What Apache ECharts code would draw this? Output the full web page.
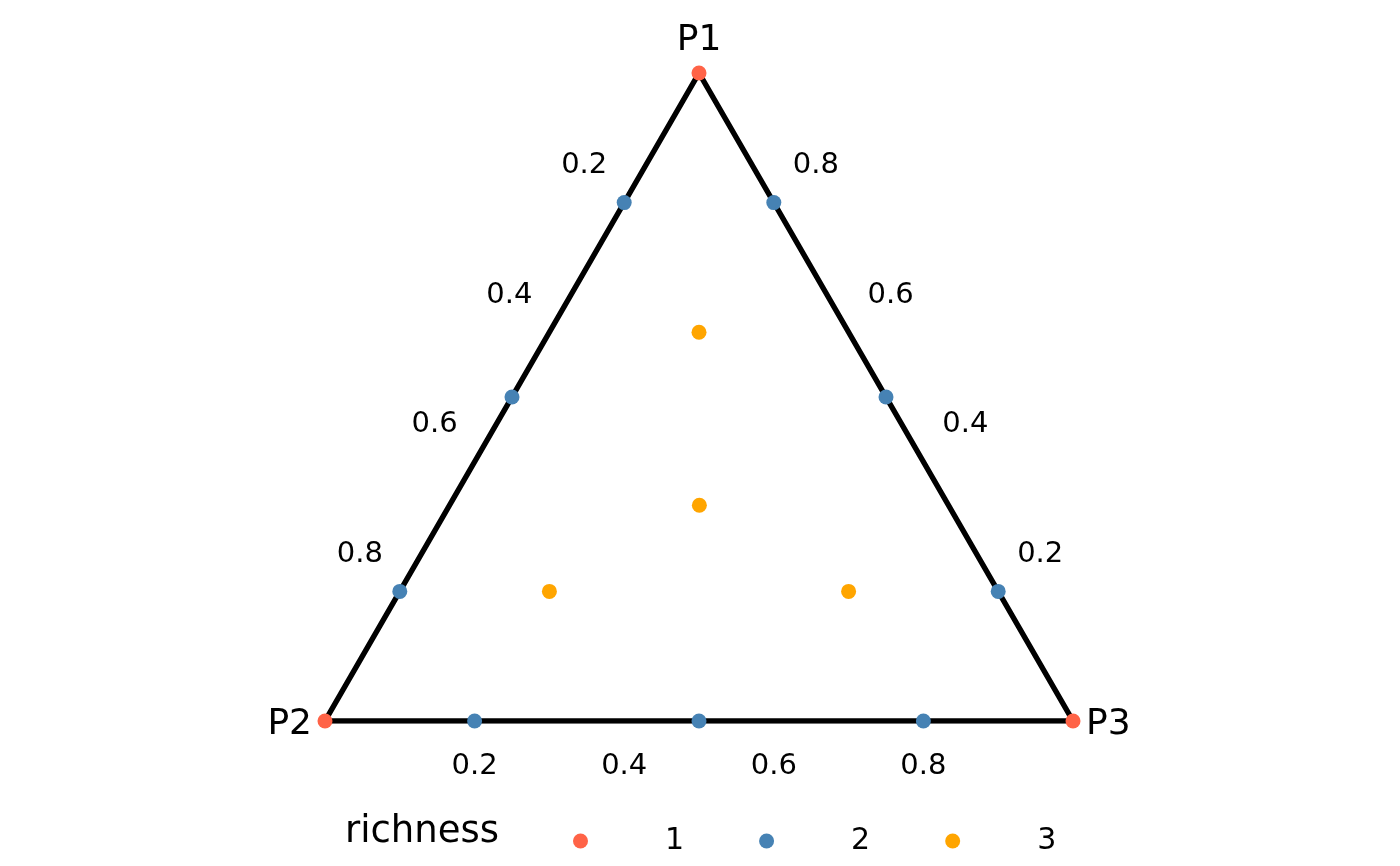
<!DOCTYPE html>
<html>
<head>
<meta charset="utf-8">
<script src="https://cdn.jsdelivr.net/npm/echarts@6/dist/echarts.min.js"></script>
<style>html,body{margin:0;padding:0;background:#fff}#c{width:1400px;height:866px}</style>
</head>
<body>
<div id="c"></div>
<script>
// ---- data (ternary compositions: [P1, P2, P3]) ----
const vertexNames = ['P1', 'P2', 'P3'];
const richness1 = [[1, 0, 0], [0, 1, 0], [0, 0, 1]];
const richness2 = [[0.8, 0.2, 0], [0.5, 0.5, 0], [0.2, 0.8, 0],
                   [0, 0.8, 0.2], [0, 0.5, 0.5], [0, 0.2, 0.8],
                   [0.8, 0, 0.2], [0.5, 0, 0.5], [0.2, 0, 0.8]];
const richness3 = [[0.6, 0.2, 0.2], [0.333, 0.333, 0.334], [0.2, 0.6, 0.2], [0.2, 0.2, 0.6]];
const tickValues = [0.2, 0.4, 0.6, 0.8];
const legendNames = ['1', '2', '3'];
const colors = ['#FF6347', '#4682B4', '#FFA500'];

const H = Math.sqrt(3) / 2;
function tern(c) { // [P1,P2,P3] -> cartesian
  const s = c[0] + c[1] + c[2];
  const p1 = c[0] / s, p3 = c[2] / s;
  return [p3 + p1 * 0.5, p1 * H];
}
const FONT = 'DejaVu Sans';

const triangle = [richness1[0], richness1[1], richness1[2], richness1[0]].map(tern);

// tick positions: left edge = P2 axis, right edge = P1 axis, bottom = P3 axis
const leftTicks = tickValues.map(v => ({ value: tern([1 - v, v, 0]), name: String(v) }));
const rightTicks = tickValues.map(v => ({ value: tern([v, 0, 1 - v]), name: String(v) }));
const bottomTicks = tickValues.map(v => ({ value: tern([0, 1 - v, v]), name: String(v) }));

function tickSeries(data, offset) {
  return {
    type: 'scatter', data: data, symbolSize: 0, silent: true, z: 1,
    itemStyle: { opacity: 1 },
    label: { show: true, position: 'inside', offset: offset, formatter: p => p.name,
      fontFamily: FONT, fontSize: 29, color: '#000' }
  };
}

const vertexLabelData = [
  { value: tern(richness1[0]), name: vertexNames[0], label: { position: 'top', distance: 14 } },
  { value: tern(richness1[1]), name: vertexNames[1], label: { position: 'left', distance: 13, offset: [0, 4] } },
  { value: tern(richness1[2]), name: vertexNames[2], label: { position: 'right', distance: 13, offset: [0, 4] } }
];

const chart = echarts.init(document.getElementById('c'));
chart.setOption({
  animation: false,
  title: { text: 'richness', left: 345, top: 814, padding: 0,
    textStyle: { fontFamily: FONT, fontSize: 37, fontWeight: 'normal', color: '#000' } },
  legend: {
    data: legendNames, left: 573, top: 826, padding: 0, itemGap: 75,
    icon: 'circle', itemWidth: 15, itemHeight: 15, selectedMode: false,
    textStyle: { fontFamily: FONT, fontSize: 30, color: '#000', padding: [0, 0, 0, 72] }
  },
  grid: { left: 325, top: 73, width: 748, height: 648 },
  xAxis: { type: 'value', min: 0, max: 1, show: false },
  yAxis: { type: 'value', min: 0, max: H, show: false },
  series: [
    { type: 'line', data: triangle, symbol: 'none', silent: true, z: 2,
      lineStyle: { color: '#000', width: 5.5, join: 'miter' } },
    tickSeries(leftTicks, [-40, -37]),
    tickSeries(rightTicks, [42, -37]),
    tickSeries(bottomTicks, [0, 45]),
    { type: 'scatter', data: vertexLabelData, symbolSize: 0, silent: true, z: 1,
      itemStyle: { opacity: 1 },
      label: { show: true, formatter: p => p.name, fontFamily: FONT, fontSize: 36, color: '#000' } },
    { name: legendNames[0], type: 'scatter', data: richness1.map(tern), symbolSize: 15, z: 5,
      itemStyle: { color: colors[0], opacity: 1 } },
    { name: legendNames[1], type: 'scatter', data: richness2.map(tern), symbolSize: 15, z: 5,
      itemStyle: { color: colors[1], opacity: 1 } },
    { name: legendNames[2], type: 'scatter', data: richness3.map(tern), symbolSize: 15, z: 5,
      itemStyle: { color: colors[2], opacity: 1 } }
  ]
});
</script>
</body>
</html>
